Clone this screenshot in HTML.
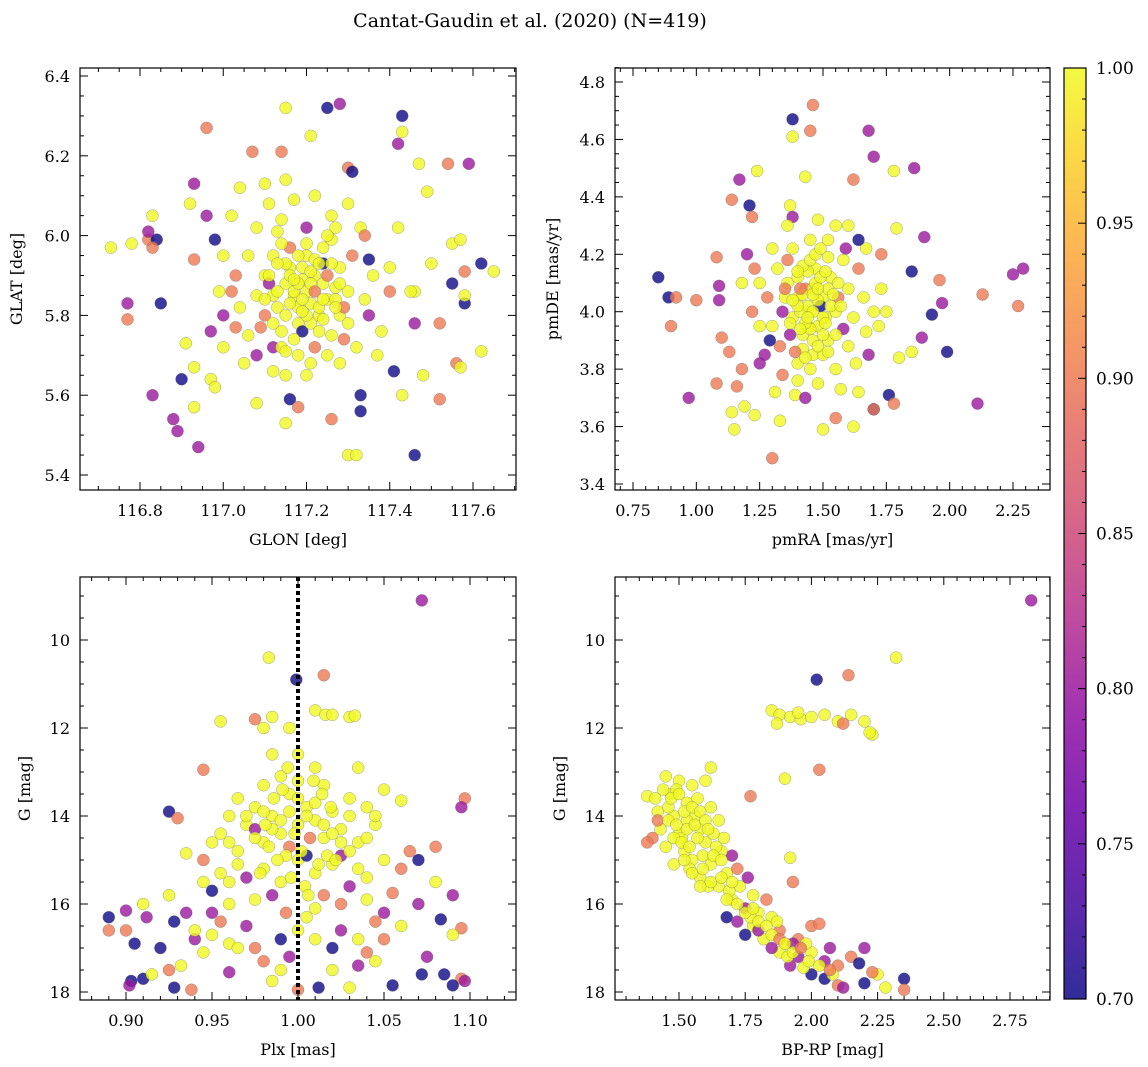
<!DOCTYPE html>
<html><head><meta charset="utf-8">
<style>
html,body{margin:0;padding:0;background:#fff;}
svg{display:block;font-family:"DejaVu Serif","Liberation Serif",serif;}
</style></head>
<body>
<svg id="fig" width="1148" height="1067" viewBox="0 0 1148 1067" xmlns="http://www.w3.org/2000/svg">
<defs>
<linearGradient id="cbgrad" x1="0" y1="1" x2="0" y2="0">
<stop offset="0" stop-color="#0d0887"/><stop offset="0.1" stop-color="#41049d"/><stop offset="0.2" stop-color="#6a00a8"/><stop offset="0.3" stop-color="#8f0da4"/><stop offset="0.4" stop-color="#b12a90"/><stop offset="0.5" stop-color="#cc4778"/><stop offset="0.6" stop-color="#e16462"/><stop offset="0.7" stop-color="#f2844b"/><stop offset="0.8" stop-color="#fca636"/><stop offset="0.9" stop-color="#fcce25"/><stop offset="1" stop-color="#f0f921"/>
</linearGradient>
</defs>
<text x="530" y="27" font-size="19" text-anchor="middle">Cantat-Gaudin et al. (2020) (N=419)</text>
</svg>
<script>
// ---------- data: top-left GLON/GLAT ----------
const tlX=[117.25,117.28,117.15,117.43,117.43,117.42,116.96,117.21,117.07,117.14,117.54,117.59,117.47,117.30,117.31,116.93,117.15,117.49,117.04,117.10,116.92,116.83,116.96,117.62,117.55,117.57,117.65,116.73,116.78,116.82,116.84,116.83,116.82,116.85,116.77,116.77,116.98,116.93,116.91,116.93,116.97,116.97,116.98,116.90,116.83,116.88,116.89,116.93,116.94,117.46,117.30,117.32,117.33,117.33,117.15,117.16,117.08,117.18,117.26,117.43,117.52,117.56,117.57,117.48,117.62,117.52,117.46,117.41,117.58,117.58,117.58,117.55,117.46,117.45,117.42,117.40,117.35,117.33,117.40,117.50,
117.10,117.12,117.15,117.18,117.20,117.22,117.25,117.23,117.18,117.14,117.10,117.08,117.12,117.16,117.20,117.24,117.28,117.30,117.28,117.26,117.22,117.18,117.12,117.06,117.04,117.03,117.06,117.08,117.14,117.20,117.26,117.30,117.34,117.36,117.35,117.32,117.28,117.20,117.12,117.05,117.00,117.00,116.99,117.00,117.02,117.11,117.17,117.22,117.27,117.16,117.19,117.21,117.17,117.24,117.13,117.27,117.09,117.31,117.14,117.19,117.24,117.11,117.03,117.34,117.38,117.37,117.21,117.15,117.08,117.02,117.26,117.29,117.13];
const tlY=[6.32,6.33,6.32,6.30,6.26,6.23,6.27,6.25,6.21,6.21,6.18,6.18,6.18,6.17,6.16,6.13,6.14,6.11,6.12,6.13,6.08,6.05,6.05,5.93,5.98,5.99,5.91,5.97,5.98,5.99,5.99,5.97,6.01,5.83,5.83,5.79,5.99,5.94,5.73,5.67,5.76,5.64,5.62,5.64,5.60,5.54,5.51,5.57,5.47,5.45,5.45,5.45,5.56,5.60,5.53,5.59,5.58,5.57,5.54,5.60,5.59,5.68,5.67,5.65,5.71,5.78,5.78,5.66,5.83,5.85,5.91,5.88,5.86,5.86,6.02,5.86,5.94,6.02,5.92,5.93,
5.90,5.85,5.88,5.82,5.86,5.90,5.84,5.80,5.78,5.76,5.80,5.85,5.95,5.97,5.95,5.97,5.92,5.86,5.80,5.75,5.72,5.70,5.72,5.75,5.82,5.90,5.95,6.02,6.04,6.02,6.05,6.08,6.00,5.90,5.80,5.72,5.68,5.65,5.66,5.68,5.72,5.80,5.86,5.95,6.05,6.08,6.09,6.10,6.02,5.92,5.89,5.83,5.85,5.88,5.82,5.87,5.77,5.95,5.98,5.76,5.93,5.88,5.77,5.84,5.76,5.70,5.68,5.65,5.70,5.86,5.93,5.74,6.01];
const tlC=[0.7,0.8,1,0.7,1,0.8,0.9,1,0.9,0.9,0.9,0.8,1,0.9,0.7,0.8,1,1,1,1,1,1,0.8,0.7,1,1,1,1,1,0.9,0.7,0.9,0.8,0.7,0.8,0.9,0.7,0.9,1,1,0.8,1,1,0.7,0.8,0.8,0.8,1,0.8,0.7,1,1,0.7,0.7,1,0.7,1,0.9,0.9,1,0.9,0.9,1,1,1,0.9,0.8,0.7,0.7,1,0.9,0.7,1,1,1,0.9,0.7,1,1,1,
1,1,1,1,1,1,1,1,1,1,0.9,1,1,0.9,1,1,1,1,1,1,0.9,1,0.8,1,1,0.9,1,1,1,0.8,1,1,0.9,1,0.8,1,1,1,1,1,1,0.8,1,1,1,1,1,1,1,1,1,1,1,1,1,1,0.9,0.9,1,0.7,0.7,0.8,0.9,1,1,1,1,1,0.8,0.9,1,0.9,1];
const tlX2=[117.17,117.19,117.21,117.23,117.15,117.13,117.25,117.27,117.19,117.21,117.17,117.23,117.15,117.11,117.29,117.25,117.18,117.20,117.22,117.16,117.24,117.14,117.26,117.12,117.28,117.18,117.22,117.20,117.16,117.24,117.10,117.30,117.19,117.21,117.17,117.23,117.13,117.27,117.15,117.25];
const tlY2=[5.86,5.84,5.88,5.82,5.80,5.86,5.90,5.84,5.92,5.78,5.74,5.76,5.93,5.90,5.82,5.70,5.95,5.98,5.94,5.83,5.79,5.72,5.99,5.78,5.88,5.88,5.86,5.80,5.90,5.84,5.84,5.78,5.81,5.91,5.89,5.93,5.93,5.82,5.71,6.00];
const tlC2=[1,1,1,1,1,1,0.9,1,1,1,1,1,1,1,0.9,1,1,1,1,1,1,1,1,1,1,1,0.9,1,1,1,1,1,1,1,1,1,1,1,1,1];
// ---------- data: top-right pmRA/pmDE ----------
const trX=[1.46,1.38,1.38,1.45,1.68,1.70,1.86,1.78,1.24,1.17,1.62,1.43,1.14,1.37,1.21,1.22,1.38,1.79,1.90,2.25,2.29,1.85,1.96,2.13,2.27,1.97,1.93,1.89,1.99,1.85,1.80,1.76,1.78,1.70,2.11,0.85,0.89,0.92,0.90,1.00,1.09,1.09,1.10,1.08,0.97,1.15,1.14,1.16,1.19,1.23,1.30,1.33,1.39,1.50,1.55,1.62,1.70,1.64,1.43,1.25,1.18,1.13,1.72,1.75,1.73,1.67,1.64,1.60,1.73,1.08,1.20,1.23,1.18,
1.40,1.45,1.50,1.48,1.42,1.38,1.35,1.40,1.47,1.53,1.55,1.52,1.46,1.40,1.33,1.30,1.28,1.32,1.38,1.45,1.52,1.58,1.60,1.62,1.60,1.55,1.48,1.40,1.34,1.27,1.25,1.25,1.30,1.36,1.48,1.55,1.64,1.66,1.67,1.63,1.57,1.43,1.49,1.37,1.56,1.44,1.51,1.41,1.46,1.34,1.58,1.29,1.36,1.52,1.42,1.59,1.31,1.22,1.70,1.68,1.50];
const trY=[4.72,4.67,4.61,4.63,4.63,4.54,4.50,4.49,4.49,4.46,4.46,4.47,4.39,4.37,4.37,4.33,4.33,4.29,4.26,4.13,4.15,4.14,4.11,4.06,4.02,4.03,3.99,3.91,3.86,3.86,3.84,3.71,3.68,3.66,3.68,4.12,4.05,4.05,3.95,4.04,4.09,4.04,3.91,3.75,3.70,3.59,3.65,3.74,3.67,3.64,3.49,3.62,3.71,3.59,3.63,3.60,3.66,3.72,3.70,3.82,3.80,3.86,3.95,4.00,4.20,4.22,4.25,4.30,4.08,4.19,4.20,4.15,4.10,
4.05,4.00,4.05,3.95,3.92,3.98,4.05,4.12,4.15,4.12,4.00,3.90,3.85,3.82,3.88,3.95,4.05,4.15,4.22,4.25,4.25,4.18,4.08,3.98,3.88,3.80,3.75,3.76,3.78,3.85,3.95,4.10,4.22,4.30,4.32,4.30,4.15,4.05,3.93,3.82,3.73,4.08,4.02,3.92,4.05,3.95,3.98,4.00,4.08,4.00,3.94,3.90,4.18,4.19,3.87,4.22,3.72,4.00,4.00,3.85,3.85];
const trC=[0.9,0.7,1,0.9,0.8,0.8,0.8,1,1,0.8,0.9,1,0.9,1,0.7,0.9,0.8,1,0.8,0.8,0.8,0.7,0.9,0.9,0.9,0.8,0.7,0.8,0.7,1,1,0.7,0.9,0.7,0.8,0.7,0.7,0.9,0.9,0.9,0.8,0.8,0.9,0.9,0.8,1,1,0.9,1,1,0.9,1,1,1,0.9,1,0.9,1,0.8,0.8,0.9,0.9,1,1,0.9,1,0.7,1,1,0.9,0.8,0.9,1,
1,1,1,1,1,1,1,1,1,1,1,1,1,1,0.9,1,0.9,1,1,1,1,1,1,1,1,1,1,1,0.9,0.8,1,1,1,1,1,1,0.9,1,1,1,1,0.9,0.7,0.8,0.9,1,1,1,1,0.8,0.8,0.7,0.9,1,1,0.8,1,0.9,1,0.8,1];
const trX2=[1.44,1.46,1.48,1.42,1.50,1.40,1.52,1.45,1.47,1.43,1.49,1.41,1.51,1.38,1.54,1.46,1.44,1.48,1.36,1.56,1.42,1.50,1.45,1.39,1.53,1.47,1.43,1.49,1.41,1.51,1.37,1.55,1.46,1.44,1.48,1.40,1.52,1.45,1.35,1.57];
const trY2=[4.02,4.00,4.04,4.06,3.98,4.02,4.08,3.94,4.10,3.96,4.12,4.08,3.96,4.04,4.06,3.90,4.14,3.88,4.10,4.10,4.16,3.92,4.18,3.86,4.02,4.20,3.84,4.22,3.94,4.14,3.96,3.92,4.06,3.98,4.08,4.14,3.86,3.80,4.08,4.02];
const trC2=[1,1,1,1,1,1,1,1,1,1,1,0.9,1,1,1,1,1,1,1,1,1,1,1,0.9,1,1,1,1,1,1,1,1,1,1,1,1,1,1,0.9,1];
// ---------- data: bottom-left Plx/G ----------
const blX=[1.072,0.983,0.999,1.015,0.955,1.010,1.016,1.020,1.030,1.033,0.975,0.985,0.980,0.995,0.945,1.035,1.05,1.06,1.097,1.095,0.925,0.930,0.935,1.065,1.080,1.070,1.060,1.080,1.055,1.090,1.070,1.083,1.095,1.090,1.075,1.072,1.085,1.095,1.090,1.097,0.890,0.890,0.900,0.900,0.905,0.910,0.912,0.903,0.902,0.910,0.915,0.925,0.920,0.928,0.938,0.925,0.928,0.932,0.940,0.945,0.950,0.960,0.980,0.985,1.000,1.012,1.030,1.055,1.045,1.035,1.050,1.045,1.025,1.020,0.970,0.960,0.950,0.990,0.995,0.975,0.993,1.010,
0.995,1.005,1.000,0.990,1.010,1.015,0.985,0.980,1.020,1.025,0.975,0.970,1.030,1.035,0.965,1.000,1.010,0.990,1.020,0.980,1.040,0.960,0.955,1.045,1.000,0.990,1.010,0.980,1.015,1.030,0.950,0.945,1.050,1.040,0.960,0.975,1.005,1.025,0.985,1.015,0.970,1.030,0.960,1.040,0.995,1.005,0.985,1.000,0.940,0.935,1.060,1.050,0.950,1.035,0.965,0.945,1.020,0.990,0.955,1.010,1.040,0.975,1.025,0.965];
const blY=[9.1,10.4,10.9,10.8,11.85,11.6,11.7,11.7,11.75,11.72,11.8,11.75,12.0,12.0,12.95,12.9,13.4,13.65,13.6,13.8,13.9,14.05,14.85,14.8,14.7,15.0,15.2,15.5,15.75,15.8,16.0,16.35,16.55,16.7,17.2,17.6,17.6,17.7,17.85,17.75,16.3,16.6,16.6,16.15,16.9,16.0,16.3,17.75,17.85,17.7,17.6,17.5,17.0,17.9,17.95,15.8,16.4,17.4,16.8,15.5,16.2,17.55,17.3,17.75,17.95,17.9,17.9,17.85,17.3,17.4,16.8,16.4,16.6,17.0,16.5,16.9,16.7,16.8,17.2,17.0,16.2,16.1,
13.5,13.8,14.2,14.4,14.1,14.5,14.0,14.6,13.9,14.3,13.8,14.2,14.0,14.6,14.8,15.0,15.3,15.5,15.1,15.2,15.4,15.5,14.4,14.2,12.6,13.1,12.9,13.3,13.3,13.6,14.6,15.0,15.0,15.9,16.0,15.9,16.3,16.0,15.8,15.8,15.4,15.6,14.0,13.8,14.7,14.9,12.6,16.6,16.6,16.2,16.5,16.2,15.7,16.8,17.0,17.1,17.5,17.5,16.4,16.8,17.1,14.3,14.9,13.6];
const blC=[0.8,1,0.7,0.9,1,1,1,1,1,1,0.9,1,1,1,0.9,1,1,1,0.9,0.8,0.7,0.9,1,0.9,0.9,0.7,0.9,1,0.9,0.8,0.8,0.7,0.9,1,0.8,0.7,0.7,0.9,0.7,0.8,0.7,0.9,0.9,0.8,0.7,1,0.8,0.7,0.8,0.7,1,0.9,0.7,0.7,0.9,1,0.7,1,0.8,1,0.8,0.8,0.9,1,0.9,0.7,1,0.7,1,0.8,0.9,0.9,0.8,0.7,0.8,1,1,0.7,0.8,0.9,0.9,1,
1,1,1,1,1,1,1,1,1,1,1,1,1,1,1,1,1,1,1,1,1,1,1,1,1,1,1,1,1,1,1,0.9,1,1,1,1,1,0.9,0.8,0.9,0.8,0.8,1,1,0.9,0.7,1,1,1,0.8,1,0.8,0.7,1,1,1,1,1,0.9,1,0.9,0.8,0.8,1];
const blX2=[1.000,0.995,1.005,0.990,1.010,0.985,1.015,0.980,1.020,0.975,1.025,0.998,1.002,0.993,1.007,0.988,1.012,0.983,1.017,0.978,1.022,0.970,1.030,0.965,1.035,0.996,1.004,0.991,1.009,0.986,1.014,0.981,1.019,0.960,1.040,0.955,1.045,1.000,0.994,1.006];
const blY2=[13.6,13.9,14.0,14.1,13.7,14.3,14.2,13.9,14.4,14.5,14.6,14.4,14.8,14.9,14.5,15.0,15.1,14.7,14.9,15.3,15.0,14.0,14.8,15.1,15.2,15.4,15.6,13.4,13.2,13.6,13.5,14.2,13.8,14.6,14.5,15.3,14.0,13.2,12.9,15.8];
const blC2=[1,1,1,1,1,1,1,1,1,1,1,1,1,1,0.9,1,1,1,1,1,1,1,1,1,1,1,1,1,1,1,1,1,1,1,1,1,1,1,1,1];
// ---------- data: bottom-right BP-RP/G ----------
const brX=[2.83,2.32,2.02,2.14,2.03,1.90,1.92,1.77,1.93,1.85,1.88,1.92,1.96,2.00,2.05,2.10,2.15,2.20,2.23,2.22,1.87,1.95,2.12,
1.38,1.45,1.50,1.55,1.62,1.60,1.47,1.53,1.42,1.48,1.56,1.62,1.65,1.43,1.50,1.58,1.40,1.38,1.45,1.52,1.60,1.67,1.70,1.55,1.62,1.48,1.68,1.58,1.72,1.65,1.73,1.70,1.78,1.75,1.80,1.68,1.72,1.85,1.78,1.88,1.82,1.90,1.75,1.95,2.00,2.03,1.88,1.95,2.00,2.05,1.92,2.10,2.15,2.20,2.18,2.25,2.23,2.35,2.35,2.10,2.05,2.00,2.12,2.20,1.97,1.85,1.53,1.46,1.57,1.51,1.63,1.41,1.59,1.66,1.76,1.83,1.80,1.87,1.93,2.07,1.42,1.49,1.54,1.61,1.69,1.77,1.91,2.08,2.28,1.98];
const brY=[9.1,10.4,10.9,10.8,12.95,13.15,14.95,13.55,15.5,11.6,11.7,11.75,11.8,11.75,11.7,11.85,11.7,11.85,12.15,12.1,11.9,11.65,11.9,
13.55,13.1,13.2,13.3,12.9,13.2,13.5,13.7,13.9,14.0,14.0,13.8,14.1,14.3,14.4,14.3,14.5,14.6,14.7,14.8,14.6,14.5,14.9,15.0,15.1,15.1,15.3,15.4,15.2,15.6,15.6,15.9,15.8,16.1,16.2,16.3,16.4,16.3,16.5,16.6,16.8,16.9,16.7,16.8,16.5,16.45,17.1,17.2,17.1,17.3,17.4,17.4,17.2,17.0,17.35,17.6,17.55,17.7,17.95,17.85,17.7,17.6,17.9,17.8,17.45,17.0,14.1,13.8,13.6,14.5,14.4,13.6,14.9,14.8,15.4,15.9,16.6,16.4,16.9,17.0,14.1,13.4,15.2,15.6,15.7,16.3,17.2,17.6,17.9,16.9];
const brC=[0.8,1,0.7,0.9,0.9,1,1,0.9,0.9,1,1,1,1,1,1,1,1,1,1,1,1,1,0.9,
1,1,1,1,1,1,1,1,1,1,1,1,1,1,1,1,0.9,0.9,1,1,1,1,0.8,1,1,1,1,1,0.9,1,1,1,1,0.8,1,0.7,0.8,1,1,0.9,1,1,0.7,0.9,0.9,0.9,1,0.8,1,0.8,0.8,0.9,0.9,0.8,0.7,1,0.9,0.7,0.9,0.9,0.7,0.7,0.8,0.7,1,0.8,1,1,1,1,1,1,1,1,0.8,0.9,0.8,1,0.8,0.8,0.9,1,1,1,1,1,1,1,1,1];
const brX2=[1.44,1.47,1.50,1.52,1.55,1.58,1.46,1.49,1.53,1.56,1.60,1.48,1.51,1.54,1.57,1.61,1.64,1.52,1.55,1.59,1.63,1.66,1.58,1.62,1.66,1.70,1.68,1.72,1.75,1.78,1.80,1.83,1.85,1.88,1.90,1.93,1.96,1.99,2.03,2.07];
const brY2=[13.4,13.6,13.5,13.9,13.8,13.9,14.1,14.2,14.3,14.2,14.1,14.5,14.6,14.7,14.5,14.3,14.7,15.0,15.3,15.2,14.9,15.0,15.6,15.5,15.4,15.5,15.9,16.0,16.2,16.1,16.4,16.5,16.7,16.8,16.9,17.1,17.0,17.3,17.4,17.5];
const brC2=[1,1,1,1,1,1,1,1,1,1,1,1,1,1,1,1,1,1,1,1,1,1,1,1,1,1,1,1,1,1,1,1,1,0.9,1,1,0.9,1,1,0.9];

// ---------- colour ----------
const stops=[[13,8,135],[65,4,157],[106,0,168],[143,13,164],[177,42,144],[204,71,120],[225,100,98],[242,132,75],[252,166,54],[252,206,37],[240,249,33]];
function cmap(v){let t=(v-0.7)/0.3;t=Math.max(0,Math.min(1,t));const p=t*10,i=Math.min(9,Math.floor(p)),f=p-i;const a=stops[i],b=stops[i+1];return 'rgb('+a.map((c,k)=>Math.round(c+(b[k]-c)*f)).join(',')+')';}

const NS='http://www.w3.org/2000/svg';
const svg=document.getElementById('fig');
function mk(tag,attrs,parent){const e=document.createElementNS(NS,tag);for(const k in attrs)e.setAttribute(k,attrs[k]);(parent||svg).appendChild(e);return e;}

function panel(cfg){
  const g=mk('g',{});
  
  
  const sx=v=>cfg.xp0+(v-cfg.xv0)*(cfg.xp1-cfg.xp0)/(cfg.xv1-cfg.xv0);
  const sy=v=>cfg.yp0+(v-cfg.yv0)*(cfg.yp1-cfg.yp0)/(cfg.yv1-cfg.yv0);
  const {L,R,T,B}=cfg;
  const clipId='clip-'+cfg.name;
  const cp=mk('clipPath',{id:clipId},g);mk('rect',{x:L,y:T,width:R-L,height:B-T},cp);
  const pts=mk('g',{'clip-path':'url(#'+clipId+')'},g);
  
  
  for(let i=0;i<cfg.x.length;i++){
    const c=mk('circle',{cx:sx(cfg.x[i]).toFixed(1),cy:sy(cfg.y[i]).toFixed(1),r:6,fill:cmap(cfg.c[i]),'fill-opacity':0.8,stroke:'#666','stroke-opacity':0.6,'stroke-width':0.5},pts);
    
    
  }
  if(cfg.vline!==undefined){
    const l=mk('line',{x1:sx(cfg.vline),x2:sx(cfg.vline),y1:T,y2:B,stroke:'#000','stroke-width':4,'stroke-dasharray':'4,3'},g);
    
    
  }
  mk('rect',{x:L,y:T,width:R-L,height:B-T,fill:'none',stroke:'#000','stroke-width':1.2},g);
  const ax=mk('g',{stroke:'#000','stroke-width':1},g);
  const xl=mk('g',{'font-size':16,'text-anchor':'middle'},g);
  
  
  for(let k=Math.ceil((cfg.xmin)/cfg.xminor-1e-6);;k++){
    const v=k*cfg.xminor;const p=sx(v);if(p>R+0.5)break;if(p<L-0.5)continue;
    const major=Math.abs(v/cfg.xmajor-Math.round(v/cfg.xmajor))<1e-6;const len=major?8:4;
    mk('line',{x1:p,x2:p,y1:B,y2:B-len},ax);mk('line',{x1:p,x2:p,y1:T,y2:T+len},ax);
    if(major){const t=mk('text',{x:p,y:B+26,stroke:'none'},xl);t.textContent=v.toFixed(cfg.xdec);}
  }
  const yl=mk('g',{'font-size':16,'text-anchor':'end'},g);
  
  
  for(let k=Math.floor(cfg.ymin/cfg.yminor);k<=Math.ceil(cfg.ymax/cfg.yminor);k++){
    const v=k*cfg.yminor;const p=sy(v);if(p<T-0.5||p>B+0.5)continue;
    const major=Math.abs(v/cfg.ymajor-Math.round(v/cfg.ymajor))<1e-6;const len=major?8:4;
    mk('line',{x1:L,x2:L+len,y1:p,y2:p},ax);mk('line',{x1:R,x2:R-len,y1:p,y2:p},ax);
    if(major){const t=mk('text',{x:L-10,y:p+6},yl);t.textContent=v.toFixed(cfg.ydec);}
  }
  const xt=mk('text',{x:(L+R)/2,y:B+55,'font-size':16,'text-anchor':'middle'},g);xt.textContent=cfg.xlabel;
  
  const yt=mk('text',{x:0,y:0,'font-size':16,'text-anchor':'middle',transform:'translate('+(cfg.ytx)+','+((T+B)/2)+') rotate(-90)'},g);yt.textContent=cfg.ylabel;
  
}

let r;
r={L:80,R:516,T:68,B:490,xp0:140,xp1:473,xv0:116.8,xv1:117.6,yp0:76,yp1:475,yv0:6.4,yv1:5.4};
panel(Object.assign(r,{name:'glon-glat-panel',x:tlX.concat(tlX2),y:tlY.concat(tlY2),c:tlC.concat(tlC2),xmajor:0.2,xminor:0.05,xdec:1,ymajor:0.2,yminor:0.05,ydec:1,
  xmin:116.6,ymin:5.3,ymax:6.5,xlabel:'GLON [deg]',ylabel:'GLAT [deg]',ytx:22}));
r={L:615,R:1050,T:68,B:490,xp0:633,xp1:1013,xv0:0.75,xv1:2.25,yp0:82,yp1:484,yv0:4.8,yv1:3.4};
panel(Object.assign(r,{name:'pm-panel',x:trX.concat(trX2),y:trY.concat(trY2),c:trC.concat(trC2),xmajor:0.25,xminor:0.05,xdec:2,ymajor:0.2,yminor:0.05,ydec:1,
  xmin:0.6,ymin:3.3,ymax:4.9,xlabel:'pmRA [mas/yr]',ylabel:'pmDE [mas/yr]',ytx:558}));
r={L:80,R:516,T:577,B:1000,xp0:126,xp1:470,xv0:0.90,xv1:1.10,yp0:640,yp1:992,yv0:10,yv1:18};
panel(Object.assign(r,{name:'plx-g-panel',x:blX.concat(blX2),y:blY.concat(blY2),c:blC.concat(blC2),xmajor:0.05,xminor:0.01,xdec:2,ymajor:2,yminor:0.5,ydec:0,
  xmin:0.86,ymin:8,ymax:19,xlabel:'Plx [mas]',ylabel:'G [mag]',ytx:30,vline:1.0}));
r={L:615,R:1050,T:577,B:1000,xp0:679,xp1:1010,xv0:1.5,xv1:2.75,yp0:640,yp1:992,yv0:10,yv1:18};
panel(Object.assign(r,{name:'cmd-panel',x:brX.concat(brX2),y:brY.concat(brY2),c:brC.concat(brC2),xmajor:0.25,xminor:0.05,xdec:2,ymajor:2,yminor:0.5,ydec:0,
  xmin:1.3,ymin:8,ymax:19,xlabel:'BP-RP [mag]',ylabel:'G [mag]',ytx:565}));

// ---------- colorbar ----------
const cbTicks=[0.70,0.75,0.80,0.85,0.90,0.95,1.00];
(function(){
  const L=1064,R=1086,T=68,B=999;
  const g=mk('g',{});
  
  
  mk('rect',{x:L,y:T,width:R-L,height:B-T,fill:'url(#cbgrad)','fill-opacity':0.85,stroke:'#000','stroke-width':1.2},g);
  const cy=v=>B-(v-0.7)/0.3*(B-T);
  for(let k=70;k<=100;k++){const v=k/100,p=cy(v);const major=k%5===0;
    mk('line',{x1:R,x2:R-(major?8:4),y1:p,y2:p,stroke:'#000','stroke-width':1},g);}
  cbTicks.forEach(v=>{const t=mk('text',{x:R+10,y:cy(v)+6,'font-size':17},g);t.textContent=v.toFixed(2);
    });
})();
</script>
</body></html>
